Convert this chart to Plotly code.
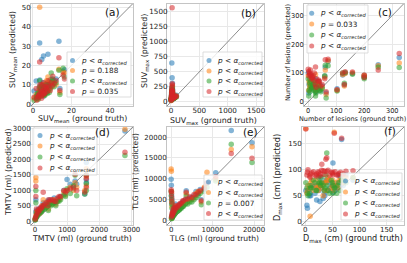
import plotly.graph_objects as go

COLORS = ["#1f77b4", "#ff7f0e", "#2ca02c", "#d62728"]
PLT = "<i>p</i> < <i>α</i><sub><i>corrected</i></sub>"

# ---------------- data ----------------
# (a) SUVmean
xa = [3.5, 13.5, 7.8, 5.5, 4.6, 15.7, 16.4, 10.3, 14.0, 9.5, 1.7, 0.6, 2.0, 2.5, 3.0, 3.2, 3.8, 4.0, 4.3, 4.8,
      5.0, 5.3, 5.8, 6.0, 6.4, 6.8, 7.2, 7.5, 8.0, 8.5, 9.0, 10.0, 11.0, 12.0, 2.8, 4.5, 6.2, 3.6, 5.6, 7.0]
ya_blue = [31.6, 32.5, 25.7, 24.9, 23.0, 17.0, 17.8, 12.0, 8.0, 13.0, 11.9, 6.7, 4.0, 6.0, 5.0, 8.5, 7.0, 10.0, 6.5, 9.0,
           5.5, 11.0, 7.5, 9.5, 8.0, 6.0, 10.5, 8.5, 9.0, 11.5, 12.5, 10.0, 12.0, 13.0, 3.5, 4.5, 7.0, 12.5, 4.0, 8.0]
ya_orange = [50.0, 18.0, 14.0, 10.0, 9.0, 16.5, 16.2, 11.0, 6.0, 12.0, 5.0, 3.0, 2.5, 4.5, 6.0, 7.5, 4.0, 9.0, 5.5, 7.0,
             8.0, 6.0, 10.0, 5.0, 7.5, 9.0, 6.5, 11.0, 7.0, 8.0, 10.5, 9.0, 11.0, 10.0, 3.0, 5.5, 8.5, 6.0, 4.5, 12.0]
ya_green = [12.0, 17.5, 10.0, 9.0, 7.0, 18.5, 14.0, 13.0, 5.0, 16.0, 4.0, 2.0, 3.0, 5.5, 3.5, 6.0, 8.0, 5.0, 7.5, 4.5,
            9.5, 7.0, 5.0, 8.0, 6.5, 10.0, 7.0, 5.5, 9.5, 6.0, 8.0, 11.5, 9.0, 11.0, 2.5, 6.5, 4.5, 9.0, 7.0, 6.0]
ya_red = [21.8, 24.0, 12.0, 11.0, 10.0, 15.0, 13.0, 14.4, 7.0, 11.0, 8.0, 3.5, 2.0, 3.5, 4.5, 5.0, 6.0, 7.5, 4.0, 6.5,
          7.0, 5.0, 8.5, 6.0, 9.0, 7.5, 8.0, 6.5, 10.0, 9.0, 7.0, 9.5, 10.5, 12.0, 4.0, 3.0, 5.5, 10.0, 5.5, 9.0]
names_a = [PLT, "<i>p</i> = 0.188", PLT, "<i>p</i> = 0.035"]

# (b) SUVmax
xb = [20, 15, 25, 10, 30, 5, 8, 12, 18, 22, 28, 35, 40, 50, 60, 70, 85, 95, 3, 6, 14, 16, 24, 33, 45, 55, 9, 11, 19, 27]
yb_blue = [400, 648, 310, 120, 200, 60, 90, 150, 180, 250, 100, 80, 110, 70, 90, 80, 100, 110, 30, 40,
           140, 220, 170, 60, 50, 75, 50, 70, 130, 160]
yb_orange = [200, 150, 260, 80, 150, 40, 70, 110, 140, 190, 80, 60, 90, 60, 70, 75, 85, 95, 20, 30,
             120, 170, 130, 50, 55, 65, 40, 60, 100, 120]
yb_green = [180, 130, 240, 90, 140, 50, 60, 100, 160, 200, 90, 70, 80, 55, 65, 70, 90, 80, 25, 35,
            110, 190, 150, 45, 60, 70, 45, 55, 110, 140]
yb_red = [1570, 170, 280, 100, 160, 45, 80, 130, 200, 300, 120, 90, 100, 65, 80, 85, 95, 90, 20, 35,
          160, 240, 180, 70, 60, 80, 50, 75, 140, 190]
names_b = [PLT, PLT, PLT, PLT]

# (c) Number of lesions
xc = [325, 250, 200, 200, 158, 123, 132, 103, 129, 71, 61, 26, 0, 3, 5, 8, 10, 12, 15, 18,
      20, 22, 25, 30, 35, 40, 45, 50, 59, 64, 2, 6, 14, 28, 38]
yc_blue = [154, 129, 92, 86, 98, 93, 100, 45, 58, 140, 120, 80, 100, 60, 80, 70, 90, 50, 60, 70,
           55, 75, 40, 65, 50, 60, 40, 55, 89, 30, 30, 45, 65, 35, 70]
yc_orange = [135, 125, 92, 88, 100, 95, 98, 40, 55, 143, 110, 95, 90, 70, 60, 75, 85, 55, 65, 50,
             70, 60, 45, 55, 60, 50, 45, 50, 85, 25, 40, 50, 55, 40, 65]
yc_green = [119, 120, 85, 80, 96, 100, 102, 37, 64, 125, 127, 20, 80, 40, 65, 55, 70, 45, 50, 60,
            40, 65, 35, 50, 45, 40, 35, 45, 90, 13, 20, 35, 50, 30, 55]
yc_red = [168, 110, 92, 84, 103, 100, 104, 42, 60, 148, 146, 121, 113, 90, 100, 110, 95, 80, 85, 90,
          75, 100, 60, 80, 70, 70, 55, 60, 80, 35, 105, 95, 85, 50, 75]
names_c = [PLT, "<i>p</i> = 0.033", PLT, PLT]

# (d) TMTV
xd = [2800, 1600, 1600, 1600, 1550, 1250, 1200, 1100, 1000, 950, 30, 30, 260, 420, 800, 700, 600, 500, 400, 300,
      250, 200, 150, 100, 60, 20, 10, 50, 80, 120, 180, 220, 350, 450, 550, 650, 900, 1300, 750, 40]
yd_blue = [2917, 1900, 1350, 1250, 880, 1300, 1050, 1200, 1350, 900, 700, 300, 600, 500, 800, 700, 750, 600, 650, 500,
           450, 400, 300, 250, 200, 100, 50, 350, 300, 400, 420, 380, 550, 700, 650, 600, 1000, 1200, 750, 150]
yd_orange = [2980, 1700, 1450, 1150, 1000, 1250, 1000, 1100, 1000, 850, 1415, 1300, 700, 400, 750, 650, 700, 550, 600, 450,
             500, 350, 250, 300, 180, 80, 60, 300, 250, 350, 380, 400, 500, 600, 600, 550, 950, 1100, 700, 200]
yd_green = [2130, 1500, 1225, 1000, 885, 1490, 1150, 900, 1050, 800, 600, 1000, 500, 350, 700, 650, 600, 500, 550, 400,
            380, 300, 260, 200, 150, 60, 40, 250, 220, 300, 320, 350, 450, 550, 550, 500, 850, 830, 650, 120]
yd_red = [2236, 1490, 1384, 1100, 950, 1523, 1100, 1050, 1000, 950, 1127, 800, 937, 700, 800, 750, 650, 700, 500, 550,
          480, 420, 350, 280, 220, 120, 70, 400, 320, 380, 450, 500, 600, 650, 700, 640, 1000, 1000, 800, 180]
names_d = [PLT, PLT, PLT, PLT]

# (e) TLG
xe = [19500, 14500, 10750, 8640, 0, 50, 100, 150, 200, 7280, 3640, 6000, 6500, 7000, 5000, 4000, 3000, 2500, 2000, 1500,
      1000, 800, 600, 400, 300, 200, 100, 500, 1200, 1800, 2200, 2800, 3500, 4500, 5500, 8000, 700, 1000, 350, 250]
ye_blue = [18620, 21590, 11450, 9000, 9900, 8500, 6000, 5000, 4000, 5000, 7170, 7000, 6500, 7500, 5500, 5000, 4500, 4000, 3500, 3000,
           2500, 2000, 1800, 1500, 1200, 1000, 800, 2500, 3000, 3500, 4000, 4500, 5000, 5500, 6000, 7500, 3000, 4000, 2000, 1500]
ye_orange = [17690, 17000, 10000, 11600, 12400, 11830, 7000, 4500, 3500, 4500, 6500, 6500, 7000, 7000, 5000, 4500, 4000, 3500, 3000, 2800,
             2200, 1800, 1500, 1200, 1000, 800, 600, 2000, 2500, 3000, 3500, 4000, 4500, 5000, 5500, 8000, 2500, 3500, 1800, 1200]
ye_green = [13950, 18300, 9500, 8000, 7000, 6000, 5000, 4000, 3000, 3830, 6000, 5500, 6000, 6500, 4500, 4000, 3500, 3000, 2600, 2200,
            1800, 1500, 1200, 1000, 800, 600, 500, 1800, 2200, 2600, 3000, 3500, 4000, 4500, 5000, 7000, 2200, 3000, 1500, 1000]
ye_red = [14950, 16100, 10500, 9000, 7400, 7000, 6500, 5500, 4500, 4800, 6800, 6200, 6800, 7200, 5500, 5200, 4800, 4200, 3800, 3200,
          2800, 2400, 2000, 1600, 1400, 1200, 900, 2800, 3300, 3800, 4200, 4800, 5200, 5800, 6300, 7800, 3200, 3600, 2200, 1800]
names_e = [PLT, PLT, "<i>p</i> = 0.007", PLT]

# (f) Dmax
xf = [1, 53.5, 67, 39.6, 38, 30.5, 51, 88, 3, 4, 21, 27, 33, 51, 9, 5, 10, 15, 20, 25,
      30, 35, 40, 45, 50, 55, 60, 65, 70, 75, 8, 12, 18, 24, 28, 42, 48, 58, 62, 36]
yf_blue = [60, 70, 158, 75, 80, 65, 113, 80, 32, 26, 42, 39, 45, 57, 55, 60, 50, 65, 70, 60,
           75, 55, 80, 65, 70, 60, 75, 85, 70, 90, 50, 70, 55, 65, 85, 60, 75, 65, 90, 50]
yf_orange = [179, 172, 90, 80, 75, 70, 80, 85, 55, 60, 65, 70, 50, 60, 10.7, 70, 75, 60, 80, 70,
             65, 75, 60, 80, 70, 75, 65, 80, 75, 85, 65, 80, 70, 60, 75, 85, 65, 70, 80, 60]
yf_green = [75, 65, 80, 132, 90, 75, 70, 85, 65, 55, 60, 75, 70, 55, 70, 50, 65, 80, 60, 75,
            85, 60, 70, 55, 75, 65, 70, 60, 80, 75, 55, 65, 75, 85, 70, 60, 80, 55, 75, 65]
yf_red = [178, 170, 160.5, 123, 120, 110.5, 95, 98, 90, 95, 92, 88, 98, 90, 85, 100, 92, 96, 88, 94,
          99, 91, 97, 89, 93, 96, 90, 95, 92, 97, 88, 94, 90, 96, 92, 99, 95, 90, 93, 97]
names_f = [PLT, PLT, PLT, PLT]

# axes ranges and ticks
rng_a = [-1, 52]; ticks_ax = [0, 20, 40]; ticks_ay = [0, 10, 20, 30, 40, 50]
rng_b = [-70, 1640]; ticks_bx = [0, 500, 1000, 1500]; ticks_by = [0, 250, 500, 750, 1000, 1250, 1500]
rng_c = [-15, 342]; ticks_cx = [0, 100, 200, 300]; ticks_cy = [0, 100, 200, 300]
rng_d = [-120, 3050]; ticks_dx = [0, 1000, 2000, 3000]; ticks_dy = [0, 500, 1000, 1500, 2000, 2500, 3000]
rng_e = [-1000, 22400]; ticks_ex = [0, 10000, 20000]; ticks_ey = [0, 5000, 10000, 15000, 20000]
rng_f = [-6, 182]; ticks_fx = [0, 50, 100, 150]; ticks_fy = [0, 50, 100, 150]

xtitles = ["SUV<sub>mean</sub> (ground truth)", "SUV<sub>max</sub> (ground truth)", "Number of lesions (ground truth)",
           "TMTV (ml) (ground truth)", "TLG (ml) (ground truth)", "D<sub>max</sub> (cm) (ground truth)"]
ytitles = ["SUV<sub>mean</sub> (predicted)", "SUV<sub>max</sub> (predicted)", "Number of lesions (predicted)",
           "TMTV (ml) (predicted)", "TLG (ml) (predicted)", "D<sub>max</sub> (cm) (predicted)"]
labels = ["(a)", "(b)", "(c)", "(d)", "(e)", "(f)"]

W, H = 407, 263
# pixel boxes (left, right, top, bottom)
boxes = [(31, 133, 3.5, 106), (167, 264, 3.5, 106), (304, 404, 3.5, 106),
         (31, 133, 127, 225), (167, 264, 127, 225), (302, 404, 127, 225)]
# axis-title centres (px) and font sizes
xt_pos = [(82, 118.5), (213, 121), (352, 118.5), (82, 238.5), (214, 238.5), (353, 238.5)]
yt_pos = [(13, 50), (145, 51), (288, 53), (8, 172), (135, 172), (277, 178)]
title_sizes = [7.8, 7.9, 6.5, 7.9, 7.6, 8.1]
tick_sizes = [7, 7.2, 6.6, 7, 7, 7]
tick_standoff = [-2, -3, -2, -2, -2, -2]
lab_pos = [(112, 12), (248, 13), (385, 12), (102, 132), (250, 132), (390, 131)]
# legend boxes: (left, right, top, bottom, dot x, text x, row ys)
legs = [(67, 131, 52, 97, 72.5, 78.5, [60.5, 70.5, 81, 91.5]),
        (203, 262, 52, 97, 209, 215, [60.5, 71, 81, 91.5]),
        (307, 368, 5, 53, 311.7, 318, [13.3, 24, 35, 46]),
        (33, 97, 128, 175, 40, 46.5, [135.5, 146, 157, 168]),
        (204, 262, 175, 220, 208.5, 215, [182, 192.5, 203, 213.5]),
        (341, 402, 173, 220, 345.5, 352, [181, 192, 203, 214])]

panels = [
    (xa, [ya_blue, ya_orange, ya_green, ya_red], names_a, rng_a, ticks_ax, ticks_ay),
    (xb, [yb_blue, yb_orange, yb_green, yb_red], names_b, rng_b, ticks_bx, ticks_by),
    (xc, [yc_blue, yc_orange, yc_green, yc_red], names_c, rng_c, ticks_cx, ticks_cy),
    (xd, [yd_blue, yd_orange, yd_green, yd_red], names_d, rng_d, ticks_dx, ticks_dy),
    (xe, [ye_blue, ye_orange, ye_green, ye_red], names_e, rng_e, ticks_ex, ticks_ey),
    (xf, [yf_blue, yf_orange, yf_green, yf_red], names_f, rng_f, ticks_fx, ticks_fy),
]

FONT = "DejaVu Sans"
TXT = "#1a1a1a"
fig = go.Figure()
annotations, shapes = [], []
layout = dict(width=W, height=H, margin=dict(l=0, r=0, t=0, b=0), autosize=False,
              paper_bgcolor="white", plot_bgcolor="white", showlegend=False,
              font=dict(family=FONT, size=7, color=TXT))


def px(x):
    return x / W


def py(y):
    return 1 - y / H


for i, (xs, ys_list, names, rng, tx, ty) in enumerate(panels):
    n = "" if i == 0 else str(i + 1)
    xa_id, ya_id = "x" + n, "y" + n
    fig.add_trace(go.Scatter(x=rng, y=rng, mode="lines", xaxis=xa_id, yaxis=ya_id,
                             line=dict(color="#6e6e6e", width=0.8), hoverinfo="skip"))
    for k in range(4):
        fig.add_trace(go.Scatter(x=xs, y=ys_list[k], mode="markers", xaxis=xa_id, yaxis=ya_id,
                                 name=names[k],
                                 marker=dict(color=COLORS[k], size=5.5, opacity=0.55, line=dict(width=0))))
    l, r, t, b = boxes[i]
    axcommon = dict(showgrid=True, gridcolor="#e8e8e8", gridwidth=0.8, zeroline=False,
                    showline=True, linecolor="#c4c4c4", linewidth=1, mirror=True,
                    ticks="", tickformat="d", ticklabelstandoff=tick_standoff[i],
                    tickfont=dict(family=FONT, size=tick_sizes[i], color=TXT), range=rng, automargin=False)
    layout["xaxis" + n] = dict(axcommon, domain=[px(l), px(r)], anchor=ya_id, tickvals=tx)
    layout["yaxis" + n] = dict(axcommon, domain=[py(b), py(t)], anchor=xa_id, tickvals=ty)
    # axis titles
    annotations.append(dict(text=xtitles[i], x=px(xt_pos[i][0]), y=py(xt_pos[i][1]), xref="paper", yref="paper",
                            xanchor="center", yanchor="middle", showarrow=False,
                            font=dict(family=FONT, size=title_sizes[i], color=TXT)))
    annotations.append(dict(text=ytitles[i], x=px(yt_pos[i][0]), y=py(yt_pos[i][1]), xref="paper", yref="paper",
                            xanchor="center", yanchor="middle", showarrow=False, textangle=-90,
                            font=dict(family=FONT, size=title_sizes[i], color=TXT)))
    annotations.append(dict(text=labels[i], x=px(lab_pos[i][0]), y=py(lab_pos[i][1]), xref="paper", yref="paper",
                            xanchor="center", yanchor="middle", showarrow=False,
                            font=dict(family=FONT, size=10.5, color="#111")))
    # legend box
    L, R, T, B, dx, tx0, rows = legs[i]
    shapes.append(dict(type="rect", xref="paper", yref="paper", x0=px(L), x1=px(R), y0=py(B), y1=py(T),
                       fillcolor="rgba(255,255,255,0.8)", line=dict(color="#d4d4d4", width=0.8), layer="above"))
    for k in range(4):
        ry = rows[k]
        shapes.append(dict(type="circle", xref="paper", yref="paper", x0=px(dx - 2.5), x1=px(dx + 2.5),
                           y0=py(ry + 2.5), y1=py(ry - 2.5), fillcolor=COLORS[k], opacity=0.55,
                           line=dict(width=0), layer="above"))
        annotations.append(dict(text=names[k], x=px(tx0), y=py(ry), xref="paper", yref="paper",
                                xanchor="left", yanchor="middle", showarrow=False,
                                font=dict(family=FONT, size=7.3, color=TXT)))

layout["annotations"] = annotations
layout["shapes"] = shapes
fig.update_layout(**layout)
fig.write_html("out.html", config={"displayModeBar": False},
               post_script="document.body.style.margin='0';document.body.style.overflow='hidden';")
